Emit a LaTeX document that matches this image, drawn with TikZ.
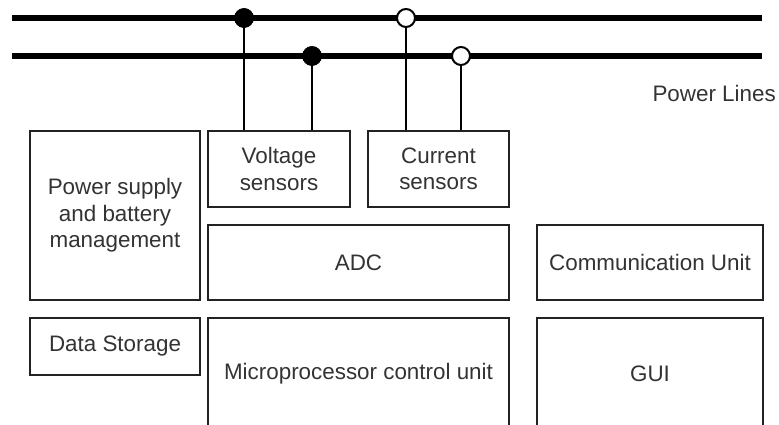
\documentclass[tikz,border=0pt]{standalone}
\usepackage{fontspec}
\setmainfont{Liberation Sans}
\definecolor{txt}{HTML}{333333}
\definecolor{edge}{HTML}{222222}
\begin{document}
\begin{tikzpicture}[x=1pt,y=-1pt,
  box/.style={draw=edge,line width=1.6pt,fill=white,inner sep=0pt,align=center,
    text=txt,font=\fontsize{22.4}{26.5}\selectfont},
  wire/.style={line width=6pt,black},
  tap/.style={line width=2.6pt,black},
  fdot/.style={circle,fill=black,draw=black,line width=0.5pt,minimum size=19pt,inner sep=0pt},
  odot/.style={circle,fill=white,draw=black,line width=2pt,minimum size=18pt,inner sep=0pt}]
\useasboundingbox (0,0) rectangle (779,425);
\clip (0,0) rectangle (779,425);
% power lines
\coordinate (L1a) at (12,18);
\coordinate (L1b) at (762,18);
\coordinate (L2a) at (12,56);
\coordinate (L2b) at (762,56);
\draw[wire] (L1a) -- (L1b);
\draw[wire] (L2a) -- (L2b);
\node[anchor=east,text=txt,font=\fontsize{22.4}{26.5}\selectfont,inner sep=0pt] (pl) at (776,93) {Power Lines};
% boxes
\node[box,minimum width=170pt,minimum height=169pt] (psu) at (115,215.5) {Power supply\\and battery\\management};
\node[box,minimum width=142pt,minimum height=76pt] (vs) at (279,169) {Voltage\\sensors};
\node[box,minimum width=141pt,minimum height=76pt] (cs) at (438.5,169) {Current\\sensors};
\node[box,minimum width=301pt,minimum height=75pt] (adc) at (358.5,262.5) {ADC};
\node[box,minimum width=226pt,minimum height=75pt] (com) at (650,262.5) {Communication Unit};
\node[box,minimum width=170pt,minimum height=57pt] (ds) at (115,346.5) {Data Storage};
\node[box,minimum width=301pt,minimum height=112pt] (mcu) at (358.5,374) {Microprocessor control unit};
\node[box,minimum width=226pt,minimum height=112pt] (gui) at (650,374) {GUI};
% taps
\node[fdot] (d1) at (244,18) {};
\node[fdot] (d2) at (312,56) {};
\node[odot] (d3) at (406,18) {};
\node[odot] (d4) at (461,56) {};
\begin{scope}[on background layer/.try]
\end{scope}
\draw[tap] (d1.center) -- (d1.center |- vs.north);
\draw[tap] (d2.center) -- (d2.center |- vs.north);
\draw[tap] (d3.south) -- (d3.center |- cs.north);
\draw[tap] (d4.south) -- (d4.center |- cs.north);
\node[fdot] at (d1) {};
\node[fdot] at (d2) {};
\end{tikzpicture}
\end{document}
